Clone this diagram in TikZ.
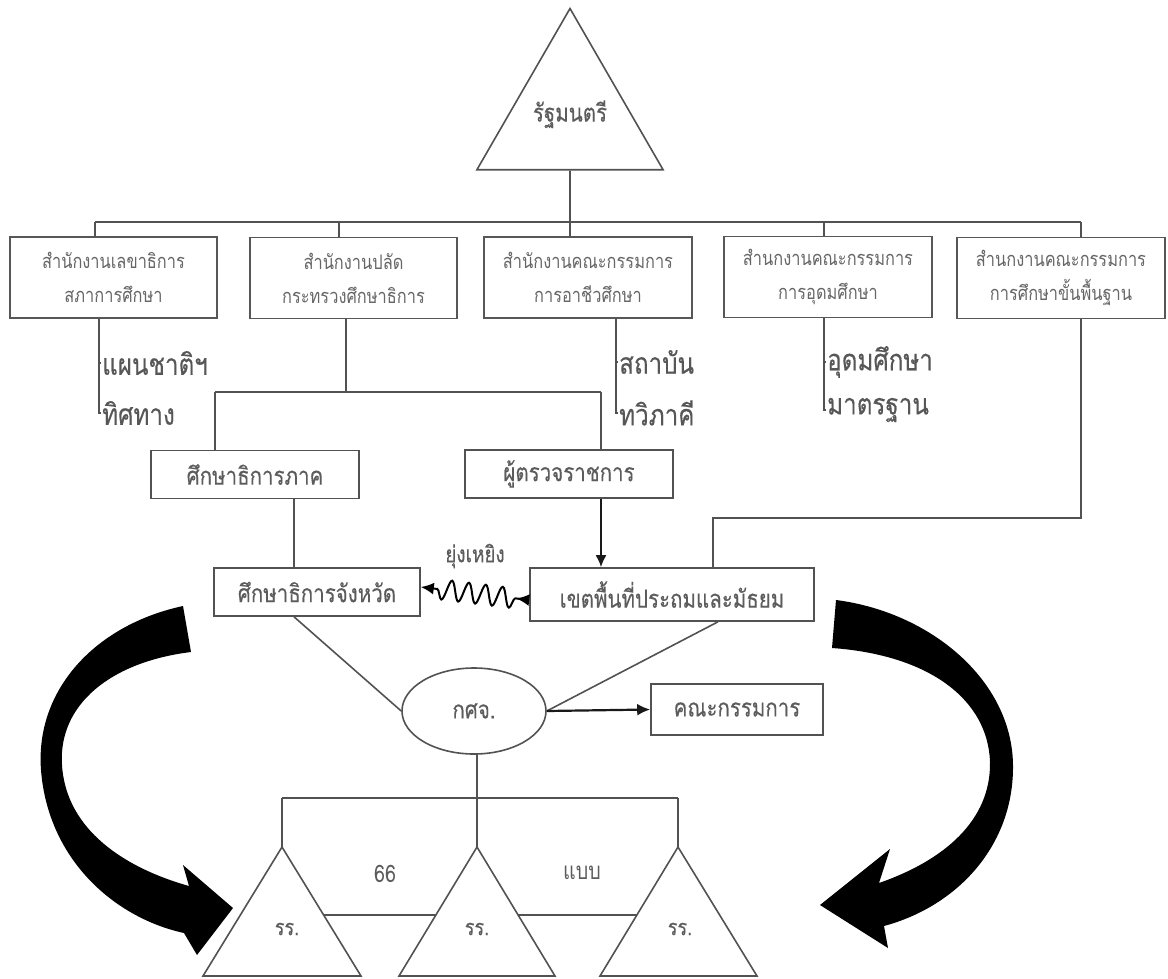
\documentclass[tikz,border=0pt]{standalone}
\usepackage{fontspec}
\newfontfamily\thai[Script=Thai,FakeStretch=0.82]{Loma}
\newfontfamily\thaib[Script=Thai,FakeStretch=0.82,FakeBold=0.25]{Loma}
\usetikzlibrary{arrows.meta,decorations.pathmorphing,shapes.geometric,calc}
\begin{document}
\begin{tikzpicture}[x=1pt,y=-1pt,
  ln/.style={draw=black!68,line width=1.6pt},
  topbox/.style={draw=black!66,line width=1.6pt,minimum width=207pt,minimum height=81pt,align=center,
     font=\thai\fontsize{20}{34}\selectfont,text=black!60,inner sep=0pt},
  midbox/.style={draw=black!68,line width=1.6pt,minimum height=48pt,inner sep=0pt,
     font=\thaib\fontsize{25}{28}\selectfont,text=black!64},
  subtxt/.style={anchor=west,inner sep=1pt,font=\thaib\fontsize{29.5}{31}\selectfont,text=black!66},
  lbl/.style={inner sep=1pt,font=\thai\fontsize{24}{26}\selectfont,text=black!64},
  bigarrow/.style={fill=black,draw=none}
  ]
\useasboundingbox (0,0) rectangle (1168,978);

% top triangle
\node[draw=black!68,line width=1.6pt,regular polygon,regular polygon sides=3,minimum size=215pt,inner sep=0pt,
      font=\thaib\fontsize{25}{28}\selectfont,text=black!64,text depth=10pt] (pm) at (570,116) {รัฐมนตรี};

% first level boxes
\node[topbox] (b1) at (113.5,277.5) {สำนักงานเลขาธิการ\\สภาการศึกษา};
\node[topbox] (b2) at (353.5,278) {สำนักงานปลัด\\กระทรวงศึกษาธิการ};
\node[topbox,minimum width=208pt] (b3) at (588,277.5) {สำนักงานคณะกรรมการ\\การอาชีวศึกษา};
\node[topbox,minimum width=208pt] (b4) at (828,277) {สำนกงานคณะกรรมการ\\การอุดมศึกษา};
\node[topbox,minimum width=208pt] (b5) at (1061,278) {สำนกงานคณะกรรมการ\\การศึกษาขั้นพื้นฐาน};

\coordinate (bus1) at (95,222);
\coordinate (bus2) at (339,222);
\coordinate (bus3) at (570,222);
\coordinate (bus4) at (824,222);
\coordinate (bus5) at (1081,222);
\draw[ln] (pm.south) -- (bus3);
\draw[ln] (bus1) -- (bus5);
\draw[ln] (bus1) -- (bus1 |- b1.north);
\draw[ln] (bus2) -- (bus2 |- b2.north);
\draw[ln] (bus3) -- (bus3 |- b3.north);
\draw[ln] (bus4) -- (bus4 |- b4.north);
\draw[ln] (bus5) -- (bus5 |- b5.north);

% sub items
\node[subtxt] (s11) at (101,363) {แผนชาติฯ};
\node[subtxt] (s12) at (101,413) {ทิศทาง};
\node[subtxt] (s31) at (618,362) {สถาบัน};
\node[subtxt] (s32) at (618,413) {ทวิภาคี};
\node[subtxt] (s41) at (826,362) {อุดมศึกษา};
\node[subtxt] (s42) at (826,410) {มาตรฐาน};
\coordinate (k1) at (99,0);
\coordinate (k3) at (616,0);
\coordinate (k4) at (824,0);
\draw[ln] (k1 |- b1.south) |- (s12.west);
\draw[ln] (k1 |- s11.west) -- (s11.west);
\draw[ln] (k3 |- b3.south) |- (s32.west);
\draw[ln] (k3 |- s31.west) -- (s31.west);
\draw[ln] (k4 |- b4.south) |- (s42.west);
\draw[ln] (k4 |- s41.west) -- (s41.west);

% second level
\node[midbox,minimum width=208pt] (ph) at (255,474.5) {ศึกษาธิการภาค};
\node[midbox,minimum width=208pt] (ins) at (569,474) {ผู้ตรวจราชการ};
\coordinate (j2) at (346,392);
\coordinate (jl) at (215,392);
\coordinate (jr) at (601,392);
\draw[ln] (b2.south -| j2) -- (j2);
\draw[ln] (jl) -- (jr);
\draw[ln] (jl) -- (jl |- ph.north);
\draw[ln] (jr) -- (jr |- ins.north);

% third level
\node[midbox,minimum width=206pt] (pv) at (317,592) {ศึกษาธิการจังหวัด};
\node[midbox,minimum width=284pt,minimum height=53pt] (ar) at (672,594.5) {เขตพื้นที่ประถมและมัธยม};
\draw[ln] (ph.south -| 294,0) -- (pv.north -| 294,0);
\draw[line width=2pt,draw=black!90,-{Latex[length=12pt,width=11pt]}] (ins.south -| 601,0) -- (ar.north -| 601,0);
\coordinate (r5) at (713,518);
\draw[ln] (b5.south -| bus5) |- (r5) -- (r5 |- ar.north);

% tangle
\coordinate (w1) at (530,600);
\coordinate (w2) at (420,587);
\draw[line width=2pt,black,decorate,
  decoration={snake,amplitude=10pt,segment length=17pt,pre length=14pt,post length=10pt},
  {Latex[reversed,length=13pt,width=12pt]}-{Latex[length=13pt,width=12pt]}] (ar.west |- w1) -- (pv.east |- w2);
\node[lbl,font=\thaib\fontsize{23}{25}\selectfont] (tg) at (475,556) {ยุ่งเหยิง};

% committee
\node[draw=black!68,line width=1.6pt,ellipse,minimum width=144pt,minimum height=86pt,inner sep=0pt,
      font=\thaib\fontsize{25}{28}\selectfont,text=black!64] (kc) at (474,711) {กศจ.};
\node[midbox,minimum width=172pt,minimum height=51pt] (cm) at (737,709.5) {คณะกรรมการ};
\draw[ln] (pv.south -| 294,0) -- (kc.west);
\draw[ln] (ar.south -| 718,0) -- (kc.east);
\draw[line width=2.2pt,draw=black!90,-{Latex[length=13pt,width=12pt]}] (kc.east) -- (cm.west);

% schools
\coordinate (ta1) at (282,847); \coordinate (tl1) at (203,976); \coordinate (tr1) at (361,976);
\coordinate (ta2) at (477,847); \coordinate (tl2) at (399,976); \coordinate (tr2) at (555,976);
\coordinate (ta3) at (678,847); \coordinate (tl3) at (600,976); \coordinate (tr3) at (757,976);
\draw[ln] (ta1) -- (tr1) -- (tl1) -- cycle;
\draw[ln] (ta2) -- (tr2) -- (tl2) -- cycle;
\draw[ln] (ta3) -- (tr3) -- (tl3) -- cycle;
\coordinate (hb) at (477,798);
\draw[ln] (kc.south -| ta2) -- (ta2);
\draw[ln] (ta1 |- hb) -- (ta3 |- hb);
\draw[ln] (ta1 |- hb) -- (ta1);
\draw[ln] (ta3 |- hb) -- (ta3);
\draw[ln] ($(ta1)!0.527!(tr1)$) -- ($(ta2)!0.527!(tl2)$);
\draw[ln] ($(ta2)!0.527!(tr2)$) -- ($(ta3)!0.527!(tl3)$);
\node[lbl] (n66) at (385,874) {66};
\node[lbl] (nbb) at (582,873) {แบบ};
\node[lbl,font=\thaib\fontsize{22}{24}\selectfont] (rr1) at (287,929) {รร.};
\node[lbl,font=\thaib\fontsize{22}{24}\selectfont] (rr2) at (477,929) {รร.};
\node[lbl,font=\thaib\fontsize{22}{24}\selectfont] (rr3) at (680,929) {รร.};

% big curved arrows
\fill[bigarrow] (183,606) .. controls (95,625) and (35,690) .. (41,770)
   .. controls (48,860) and (115,918) .. (184,933)
   -- (197,955) -- (233,908) -- (183,865) -- (189,886)
   .. controls (125,868) and (66,830) .. (62,765)
   .. controls (58,705) and (110,662) .. (191,652) -- cycle;
\fill[bigarrow] (836,600) .. controls (930,612) and (1012,680) .. (1013,765)
   .. controls (1014,845) and (958,906) .. (884,926)
   -- (888,948) -- (820,905) -- (890,849) -- (879,883)
   .. controls (945,860) and (991,820) .. (990,762)
   .. controls (988,700) and (930,655) .. (832,648) -- cycle;
\end{tikzpicture}
\end{document}
